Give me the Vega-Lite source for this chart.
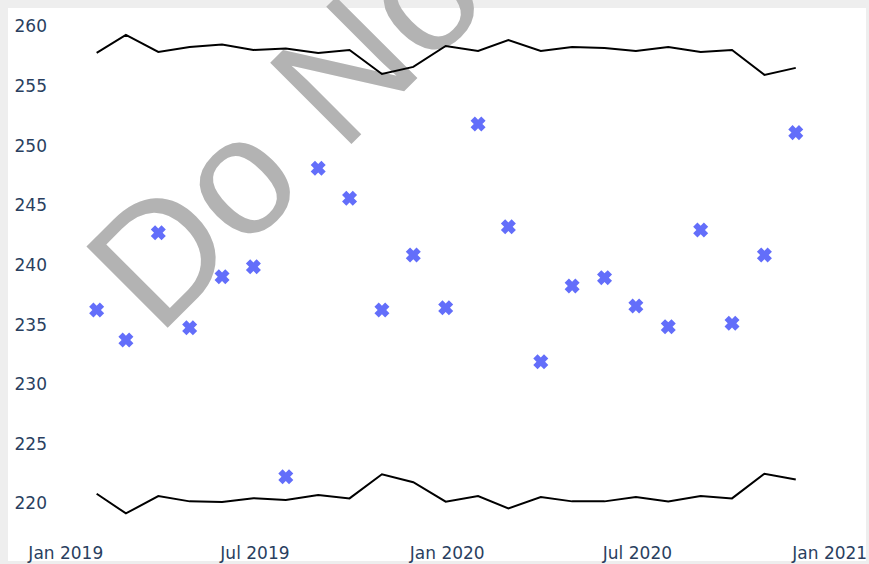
{
  "$schema": "https://vega.github.io/schema/vega-lite/v6.json",
  "width": 858,
  "height": 553,
  "autosize": {"type": "none"},
  "padding": {"left": 8, "top": 8, "right": 3, "bottom": 3},
  "background": "#eeeeee",
  "config": {
    "view": {"fill": "white", "stroke": null},
    "axis": {
      "grid": false, "domain": false, "ticks": false, "tickSize": 0,
      "labelPadding": 0, "labelFont": "DejaVu Sans", "labelFontSize": 17,
      "labelColor": "#2a3f5f", "title": null, "labelOverlap": false, "labelFlush": false
    },
    "axisX": {"labelBaseline": "alphabetic", "offset": -2.7},
    "axisY": {"offset": -38.5}
  },
  "datasets": {
    "watermark": [
      {"date": "2019-03-30T19:00:00Z", "value": 233.96, "label": "Do Not Copy"}
    ],
    "chart": [
      {"date": "2019-01-31", "value": 236.27, "ucl": 257.82, "lcl": 220.86},
      {"date": "2019-02-28", "value": 233.75, "ucl": 259.33, "lcl": 219.21},
      {"date": "2019-03-31", "value": 242.75, "ucl": 257.91, "lcl": 220.66},
      {"date": "2019-04-30", "value": 234.78, "ucl": 258.32, "lcl": 220.22},
      {"date": "2019-05-31", "value": 239.06, "ucl": 258.53, "lcl": 220.16},
      {"date": "2019-06-30", "value": 239.90, "ucl": 258.07, "lcl": 220.49},
      {"date": "2019-07-31", "value": 222.29, "ucl": 258.20, "lcl": 220.33},
      {"date": "2019-08-31", "value": 248.15, "ucl": 257.82, "lcl": 220.75},
      {"date": "2019-09-30", "value": 245.64, "ucl": 258.07, "lcl": 220.47},
      {"date": "2019-10-31", "value": 236.27, "ucl": 256.06, "lcl": 222.49},
      {"date": "2019-11-30", "value": 240.88, "ucl": 256.65, "lcl": 221.83},
      {"date": "2019-12-31", "value": 236.46, "ucl": 258.41, "lcl": 220.19},
      {"date": "2020-01-31", "value": 251.87, "ucl": 257.99, "lcl": 220.66},
      {"date": "2020-02-29", "value": 243.25, "ucl": 258.91, "lcl": 219.63},
      {"date": "2020-03-31", "value": 231.93, "ucl": 257.99, "lcl": 220.58},
      {"date": "2020-04-30", "value": 238.28, "ucl": 258.32, "lcl": 220.22},
      {"date": "2020-05-31", "value": 238.98, "ucl": 258.24, "lcl": 220.22},
      {"date": "2020-06-30", "value": 236.60, "ucl": 257.99, "lcl": 220.58},
      {"date": "2020-07-31", "value": 234.87, "ucl": 258.32, "lcl": 220.22},
      {"date": "2020-08-31", "value": 242.98, "ucl": 257.91, "lcl": 220.66},
      {"date": "2020-09-30", "value": 235.15, "ucl": 258.07, "lcl": 220.47},
      {"date": "2020-10-31", "value": 240.88, "ucl": 255.98, "lcl": 222.54},
      {"date": "2020-11-30", "value": 251.14, "ucl": 256.57, "lcl": 222.06}
    ]
  },
  "encoding": {
    "x": {
      "field": "date", "type": "temporal",
      "scale": {
        "type": "utc",
        "domain": [
          {"year": 2018, "month": 11, "date": 7, "hours": 4, "utc": true},
          {"year": 2021, "month": 2, "date": 5, "hours": 5, "utc": true}
        ]
      },
      "axis": {
        "values": [
          {"year": 2019, "month": 1, "date": 1, "utc": true},
          {"year": 2019, "month": 7, "date": 1, "utc": true},
          {"year": 2020, "month": 1, "date": 1, "utc": true},
          {"year": 2020, "month": 7, "date": 1, "utc": true},
          {"year": 2021, "month": 1, "date": 1, "utc": true}
        ],
        "format": "%b %Y"
      }
    }
  },
  "layer": [
    {
      "data": {"name": "watermark"},
      "mark": {"type": "text", "angle": -45, "align": "left", "baseline": "alphabetic", "font": "Liberation Sans", "fontSize": 167, "color": "#b3b3b3"},
      "encoding": {
        "y": {"field": "value", "type": "quantitative", "scale": {"domain": [215.22, 261.59], "nice": false, "zero": false}, "axis": {"values": [220, 225, 230, 235, 240, 245, 250, 255, 260]}},
        "text": {"field": "label"}
      }
    },
    {
      "data": {"name": "chart"},
      "mark": {"type": "line", "color": "black", "strokeWidth": 2},
      "encoding": {"y": {"field": "ucl", "type": "quantitative"}}
    },
    {
      "data": {"name": "chart"},
      "mark": {"type": "line", "color": "black", "strokeWidth": 2},
      "encoding": {"y": {"field": "lcl", "type": "quantitative"}}
    },
    {
      "data": {"name": "chart"},
      "mark": {"type": "point", "shape": "cross", "angle": 45, "filled": true, "size": 230, "color": "#636efa", "opacity": 1, "strokeWidth": 0},
      "encoding": {"y": {"field": "value", "type": "quantitative"}}
    }
  ]
}
